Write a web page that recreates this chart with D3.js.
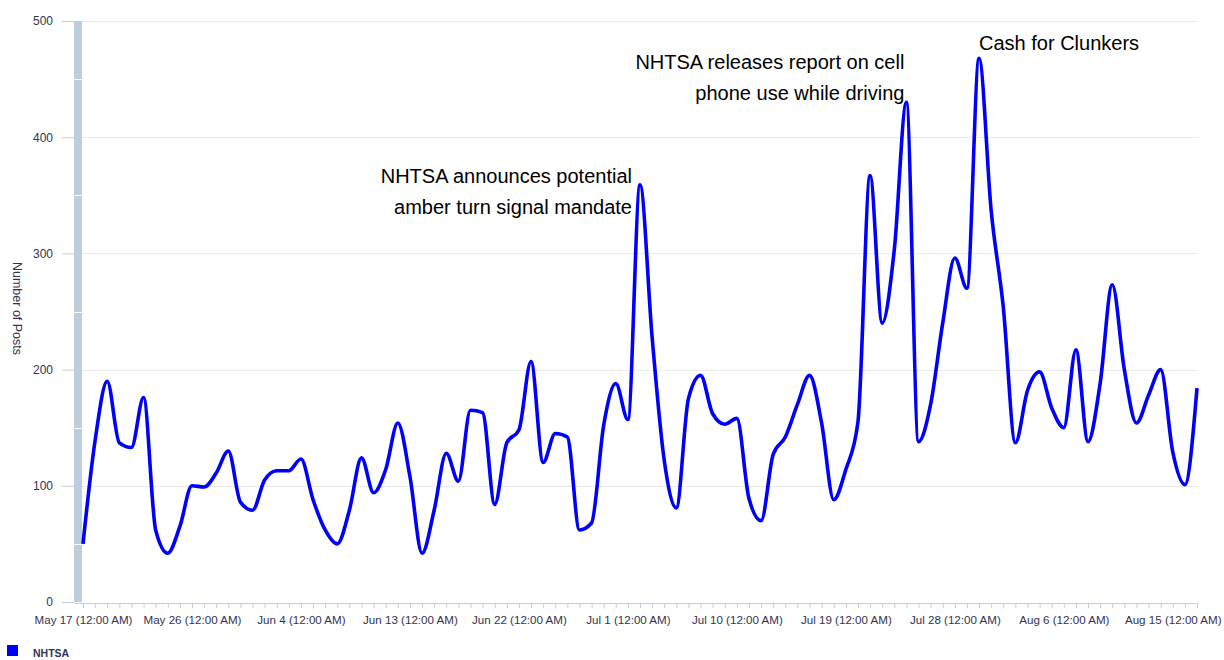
<!DOCTYPE html>
<html><head><meta charset="utf-8">
<script src="https://cdn.jsdelivr.net/npm/d3@7"></script>
<style>
body{margin:0;background:#fff}
svg{display:block;font-family:"Liberation Sans",Arial,sans-serif}
</style></head>
<body><svg id="chart" width="1224" height="660"></svg>
<script>
// ---- data ----
const seriesName = "NHTSA";
const startDay = [2009, 4, 17]; // May 17
const values = [50,139,190,137,133,176,62,42,65,100,99,111,130,86,79,105,113,113,123,88,
  62,50,79,124,94,114,154,108,42,79,128,104,165,163,84,137,148,207,120,145,
  142,62,68,152,188,157,359,228,122,81,175,195,162,153,158,89,70,127,142,170,
  195,154,88,114,155,367,240,303,430,138,170,240,296,270,468,337,254,137,182,198,
  167,150,217,138,188,273,200,154,178,200,129,101,184];
const xTickDayOffsets = [0,9,18,27,36,45,54,63,72,81,90];
const xTickLabels = ["May 17 (12:00 AM)","May 26 (12:00 AM)","Jun 4 (12:00 AM)","Jun 13 (12:00 AM)",
  "Jun 22 (12:00 AM)","Jul 1 (12:00 AM)","Jul 10 (12:00 AM)","Jul 19 (12:00 AM)","Jul 28 (12:00 AM)",
  "Aug 6 (12:00 AM)","Aug 15 (12:00 AM)"];
const yTicks = [0,100,200,300,400,500];
const yTitle = "Number of Posts";
const annotationDays = [46, 68, 74];
const annotationTexts = [
  ["NHTSA announces potential","amber turn signal mandate"],
  ["NHTSA releases report on cell","phone use while driving"],
  ["Cash for Clunkers"]
];

// ---- chart ----
const dates = values.map((v,i)=>new Date(startDay[0], startDay[1], startDay[2]+i));
const data = values.map((v,i)=>({date:dates[i], value:v}));
const svg = d3.select("#chart");
const x = d3.scaleTime().domain([dates[0], dates[dates.length-1]]).range([83, 1197]);
const y = d3.scaleLinear().domain([0,500]).range([602, 21]);

const axisColor = "#c0d0e0";
const labelColor = "#33334f";

// gridlines
svg.append("g").selectAll("line").data(yTicks.filter(d=>d>0)).join("line")
  .attr("x1", 82).attr("x2", 1198)
  .attr("y1", d=>Math.round(y(d))+0.5).attr("y2", d=>Math.round(y(d))+0.5)
  .attr("stroke", "#ebebeb").attr("stroke-width", 1);

// left band
svg.append("rect").attr("x", 74).attr("y", y(500)).attr("width", 8).attr("height", y(0)-y(500))
  .attr("fill", "#bccddd");
svg.append("g").selectAll("line").data(d3.range(50,500,100)).join("line")
  .attr("x1", 74).attr("x2", 82)
  .attr("y1", d=>Math.round(y(d))+0.5).attr("y2", d=>Math.round(y(d))+0.5)
  .attr("stroke", "#fff").attr("stroke-width", 1);

// y axis
const yAxis = d3.axisLeft(y).tickValues(yTicks).tickSize(12).tickPadding(9).tickFormat(d3.format("d"));
const gy = svg.append("g").attr("transform","translate(74,0)").call(yAxis);
gy.select(".domain").remove();
gy.selectAll(".tick line").attr("stroke", axisColor);
gy.selectAll(".tick text").attr("fill", labelColor).style("font-size","12px")
  .style("font-family",'"Liberation Sans",Arial,sans-serif');

// x axis
const dayTicks = d3.timeDay.range(dates[0], d3.timeDay.offset(dates[dates.length-1],1));
const labelMap = new Map(xTickDayOffsets.map((o,i)=>[+d3.timeDay.offset(dates[0],o), xTickLabels[i]]));
const xAxis = d3.axisBottom(x).tickValues(dayTicks).tickSize(5).tickPadding(8)
  .tickFormat(d=>labelMap.get(+d) || "");
const gx = svg.append("g").attr("transform","translate(0,603)").call(xAxis);
gx.select(".domain").attr("stroke", axisColor).attr("d", "M74,0.5H1198");
gx.selectAll(".tick line").attr("stroke", axisColor);
gx.selectAll(".tick text").attr("fill", labelColor).style("font-size","11.6px")
  .style("font-family",'"Liberation Sans",Arial,sans-serif');

// y title
svg.append("text").attr("transform", `translate(13,${(y(0)+y(500))/2 - 3}) rotate(90)`)
  .attr("text-anchor","middle").attr("fill", labelColor).style("font-size","12.5px")
  .text(yTitle);

// line
const line = d3.line().x(d=>x(d.date)).y(d=>y(d.value)).curve(d3.curveMonotoneX);
svg.append("path").datum(data).attr("d", line).attr("fill","none")
  .attr("stroke","#0000ff").attr("stroke-width",3.6).attr("stroke-linejoin","round");

// annotations
const annLayout = [
  {dx:-8, dy:-2, anchor:"end"},
  {dx:-2, dy:-33, anchor:"end"},
  {dx:80, dy:-8, anchor:"middle"}
];
annotationDays.forEach((day,i)=>{
  const d = data[day];
  const L = annLayout[i];
  const t = svg.append("text").attr("text-anchor", L.anchor).attr("fill","#000")
    .style("font-size","20px");
  annotationTexts[i].forEach((s,j)=>{
    t.append("tspan").attr("x", x(d.date)+L.dx).attr("y", y(d.value)+L.dy+j*31).text(s);
  });
});

// legend
svg.append("rect").attr("x",7).attr("y",645).attr("width",11).attr("height",11).attr("fill","#0000ff");
svg.append("text").attr("x",33).attr("y",657).attr("fill","#333355").style("font-size","10.5px")
  .style("font-weight","bold").text(seriesName);
</script>
</body></html>
